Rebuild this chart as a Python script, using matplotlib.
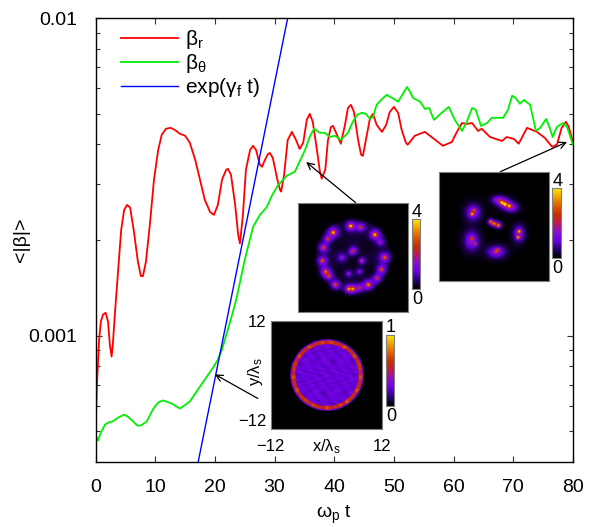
import numpy as np
import matplotlib
matplotlib.use('Agg')
import matplotlib.pyplot as plt
from matplotlib.colors import LinearSegmentedColormap

plt.rcParams['font.family'] = ['Liberation Sans', 'DejaVu Sans']
plt.rcParams['mathtext.fontset'] = 'custom'
plt.rcParams['mathtext.rm'] = 'Liberation Sans'
plt.rcParams['mathtext.it'] = 'Liberation Sans:italic'
plt.rcParams['axes.unicode_minus'] = True

W, H = 590, 527

# <|beta_r|> (values in units of 1e-3)
t_r = [0, .25, .6, .9, 1.25, 1.7, 2.1, 2.4, 2.7, 2.9, 3.3, 3.8, 4.3, 4.8, 5.3, 5.8, 6.45, 7.1, 7.6, 7.95,
       8.45, 9.1, 9.8, 10.5, 11.1, 11.8, 12.6, 13.3, 14.15, 15.0, 15.8, 16.7, 17.5, 18.3, 19.2, 19.85,
       20.5, 21.2, 21.9, 22.2, 22.7, 23.4, 23.9, 24.2, 24.7, 25.2, 25.9, 26.4, 26.9, 27.55, 27.9, 28.4,
       28.9, 29.2, 29.7, 30.4, 30.9, 31.1, 31.6, 32.2, 32.9, 33.6, 34.2, 34.8, 35.4, 35.9, 36.4, 37.1,
       37.6, 37.9, 38.5, 38.95, 39.45, 39.8, 40.3, 41.1, 41.8, 42.3, 42.8, 43.3, 44.0, 44.5, 44.8, 45.3,
       46.0, 46.5, 47.1, 48.0, 48.7, 49.3, 50.0, 50.7, 51.3, 52.0, 52.3, 53.5, 55.2, 56.5, 58.2, 59.7,
       60.55, 61.4, 62.2, 63.1, 64.1, 64.7, 66.1, 68.1, 68.9, 70.1, 70.9, 72.3, 73.95, 75.3, 76.5, 77.3,
       78.1, 78.8, 79.3, 80]
beta_r = [.499, .701, .971, 1.107, 1.164, 1.18, 1.107, .937, .859, .937, 1.208, 1.61, 2.15, 2.49, 2.58, 2.53,
          2.12, 1.71, 1.54, 1.54, 1.71, 2.23, 3.10, 3.84, 4.29, 4.48, 4.51, 4.44, 4.32, 4.26, 4.05, 3.58,
          3.10, 2.68, 2.45, 2.40, 2.58, 3.10, 3.33, 3.35, 3.21, 2.58, 2.08, 1.95, 2.40, 3.33, 3.84, 3.96,
          3.84, 3.45, 3.40, 3.58, 3.73, 3.76, 3.63, 3.14, 2.88, 2.84, 3.21, 4.13, 4.38, 4.13, 3.87, 4.05,
          4.78, 4.99, 4.71, 3.84, 3.28, 3.12, 3.33, 4.13, 4.54, 4.57, 4.35, 4.02, 4.61, 5.21, 5.33, 5.06,
          4.13, 3.71, 3.68, 4.13, 4.85, 4.99, 4.61, 4.38, 4.61, 5.06, 5.25, 5.03, 4.44, 4.05, 3.99, 4.26,
          4.38, 4.19, 3.96, 4.07, 4.38, 4.67, 4.64, 4.67, 4.41, 4.48, 4.22, 4.10, 4.22, 4.16, 4.02, 4.51,
          4.38, 4.19, 3.93, 3.99, 4.51, 4.71, 4.54, 4.05]

# <|beta_theta|>
t_th = [0, .4, .9, 1.6, 2.25, 2.9, 3.8, 4.8, 5.4, 6.3, 7.0, 7.6, 8.6, 9.6, 10.5, 11.3, 12.8, 14.15, 15.8, 17.5,
        19.7, 20.5, 21.2, 22.0, 22.9, 23.7, 25.0, 26.4, 27.55, 28.7, 29.6, 30.6, 32.1, 33.4, 34.25, 35.1, 35.8,
        36.6, 37.6, 38.4, 39.3, 40.1, 41.1, 42.3, 43.1, 43.8, 44.6, 45.3, 46.0, 46.5, 47.1, 48.0, 48.8, 49.7,
        50.7, 51.3, 52.2, 52.7, 53.2, 54.4, 55.2, 55.9, 56.7, 58.0, 59.2, 60.2, 61.4, 62.2, 63.1, 63.7, 64.6,
        65.6, 66.4, 68.3, 69.1, 69.8, 70.4, 71.1, 71.8, 72.8, 73.3, 73.8, 74.5, 75.5, 76.1, 76.6, 77.3, 78.3,
        79.0, 80]
beta_th = [.488, .467, .495, .525, .533, .537, .552, .564, .556, .537, .521, .521, .537, .585, .616, .625, .611,
           .589, .620, .691, .793, .840, .904, 1.02, 1.164, 1.33, 1.73, 2.20, 2.40, 2.54, 2.77, 2.98, 3.19, 3.28,
           3.55, 3.84, 4.19, 4.48, 4.35, 4.35, 4.22, 4.26, 4.13, 4.35, 4.71, 4.95, 5.03, 4.99, 4.81, 4.88, 5.33,
           5.56, 5.73, 5.60, 5.45, 5.69, 6.07, 5.85, 5.60, 5.45, 5.17, 5.21, 4.78, 5.03, 5.25, 4.78, 4.41, 4.71,
           5.21, 5.14, 4.57, 4.67, 4.85, 4.85, 5.14, 5.69, 5.60, 5.37, 5.52, 5.33, 4.85, 4.41, 4.51, 4.81, 4.51,
           4.22, 4.54, 4.67, 4.54, 3.99]

# exp(gamma_f t) fit
t_fit = [17.2, 32.2]
beta_fit = [.4, 10.0]

x_ticks = [0, 10, 20, 30, 40, 50, 60, 70, 80]
y_major = [0.001, 0.01]
y_major_labels = ['0.001', '0.01']
y_minor = [5e-4, 6e-4, 7e-4, 8e-4, 9e-4, 2e-3, 3e-3, 4e-3, 5e-3, 6e-3, 7e-3, 8e-3, 9e-3]

# blobs seen in the insets: x, y (fraction of the image, y down), peak, width
late_x = [.48, .57, .32, .27, .70, .75, .23, .22, .79, .76, .25, .28, .72, .34, .64, .46, .50, .56,
          .49, .40, .58, .56, .46, .51]
late_y = [.21, .22, .27, .33, .29, .36, .41, .53, .50, .61, .63, .67, .69, .75, .75, .79, .79, .78,
          .45, .50, .53, .63, .65, .43]
late_a = [3.6, 2.0, 3.2, 2.0, 3.3, 1.0, 2.2, 2.4, 2.5, 2.3, 2.4, 1.8, 1.9, 2.3, 2.8, 2.6, 2.6, 1.3,
          1.0, .9, 2.0, .9, .9, .7]
late_s = [.022, .022, .025, .02, .025, .02, .022, .022, .025, .022, .024, .02, .022, .022, .024, .02, .02, .02,
          .018, .022, .016, .015, .015, .018]

halo_x = [.54, .60, .66, .31, .47, .51, .545, .727, .295, .52]
halo_y = [.255, .29, .325, .37, .457, .475, .49, .567, .63, .735]
halo_sx = [.04, .04, .04, .045, .018, .022, .018, .035, .045, .055]
halo_sy = [.025, .03, .028, .05, .018, .02, .018, .05, .06, .038]

speck_x = [.57, .60, .64, .30, .32, .30, .33, .73, .72, .50, .47, .54, .52, .54]
speck_y = [.28, .295, .31, .385, .35, .61, .66, .545, .60, .475, .455, .49, .73, .71]
speck_a = [2.4, 3.0, 2.2, 2.6, 1.6, 1.6, 1.4, 2.8, 2.6, 1.8, 1.6, 1.6, 1.6, 1.4]

palette = ['#000000', '#2a0070', '#6a00e0', '#8a10d0', '#c01a50', '#c83000', '#e06000', '#f0a000', '#ffe800']
fire = LinearSegmentedColormap.from_list('fire', palette)


def px_axes(x0, y0, x1, y1):
    return fig.add_axes([x0 / W, 1 - y1 / H, (x1 - x0) / W, (y1 - y0) / H])


def frame(a):
    a.set_xticks([])
    a.set_yticks([])
    for s in a.spines.values():
        s.set_color('#808080')
        s.set_linewidth(0.8)


def colorbar(bar, lo, hi):
    cax = px_axes(*bar)
    cax.imshow(np.linspace(1, 0, 200)[:, None], cmap=fire, aspect='auto')
    frame(cax)
    xc = (bar[0] + bar[2]) / 2 + 1
    fig.text(xc / W, 1 - (bar[1] - 7) / H, hi, ha='center', va='center', fontsize=13)
    fig.text(xc / W, 1 - (bar[3] + 11) / H, lo, ha='center', va='center', fontsize=13)


n = 220
gx, gy = np.meshgrid(np.linspace(0, 1, n), np.linspace(0, 1, n))

# ring at the start of the instability
rr = np.hypot(gx - .5, gy - .505)
ang = np.arctan2(gy - .505, gx - .5)
ring = .25 + .035 * np.sin(38 * gx + 9 * np.sin(21 * gy)) * np.cos(33 * gy) + .02 * np.cos(61 * gx - 47 * gy)
ring = np.where(rr < .33, ring, .0)
band = (rr > .285) & (rr < .318)
ring = np.where(band, .60 + .07 * np.sin(17 * ang) + .05 * np.sin(29 * ang), ring)
ring = ring + .25 * np.exp(-((gx - .675) ** 2 + (gy - .755) ** 2) / .00012)
ring = ring + .1 * np.exp(-((gx - .51) ** 2 + (gy - .19) ** 2) / .0004)

# filaments on a ring
late = np.zeros_like(gx)
for x, y, a, s in zip(late_x, late_y, late_a, late_s):
    d2 = (gx - x) ** 2 + (gy - y) ** 2
    late += (.6 + .3 * a) * np.exp(-d2 / (2 * (1.5 * s) ** 2))
    late += .7 * a * np.exp(-d2 / (2 * (.5 * s) ** 2))
rl = np.hypot(gx - .5, gy - .49)
late += .16 * (rl < .34) * (1 + .6 * np.sin(16 * gx) * np.cos(19 * gy))

# merged filaments
final = np.zeros_like(gx)
for x, y, sx, sy in zip(halo_x, halo_y, halo_sx, halo_sy):
    final += 1.3 * np.exp(-(gx - x) ** 2 / (2 * sx ** 2) - (gy - y) ** 2 / (2 * sy ** 2))
    final += .2 * np.exp(-(gx - x) ** 2 / (2 * (1.6 * sx) ** 2) - (gy - y) ** 2 / (2 * (1.6 * sy) ** 2))
for x, y, a in zip(speck_x, speck_y, speck_a):
    final += a * np.exp(-((gx - x) ** 2 + (gy - y) ** 2) / (2 * .011 ** 2))
final = np.clip(final, 0, 4)

fig = plt.figure(figsize=(W / 100, H / 100), dpi=100)
ax = px_axes(95.5, 18, 573, 462)
ax.semilogy(t_r, np.array(beta_r) * 1e-3, color='#ff0000', lw=1.3, label='β$_{\\mathrm{r}}$')
ax.semilogy(t_th, np.array(beta_th) * 1e-3, color='#00f000', lw=1.3, label='β$_{\\mathrm{θ}}$')
ax.semilogy(t_fit, np.array(beta_fit) * 1e-3, color='#0000ff', lw=1.0, label='exp(γ$_{\\mathrm{f}}$ t)')
ax.set_xlim(0, 80)
ax.set_ylim(4e-4, 0.01)
ax.set_xticks(x_ticks)
ax.set_yticks(y_major)
ax.set_yticklabels(y_major_labels)
ax.set_yticks(y_minor, minor=True)
ax.set_yticklabels([], minor=True)
ax.tick_params(which='major', direction='in', length=4.5, width=0.8, top=True, right=True, labelsize=14,
               color='#333333')
ax.tick_params(which='minor', direction='in', length=3.0, width=0.8, top=True, right=True, color='#333333')
ax.tick_params(axis='y', which='major', pad=13)
ax.tick_params(axis='x', which='major', pad=12.5)
ax.set_xlabel('ω$_{\\mathrm{p}}$ t', fontsize=14)
ax.xaxis.set_label_coords(0.5, -0.095)
ax.set_ylabel('<|β|>', fontsize=14)
ax.yaxis.set_label_coords(-0.137, 0.5)
for s in ax.spines.values():
    s.set_linewidth(1.0)
ax.legend(loc='upper left', bbox_to_anchor=(0.041, 0.992), frameon=False, fontsize=15, handlelength=2.74,
          handletextpad=0.33, labelspacing=0.05, borderaxespad=0, borderpad=0.3)

arrow = dict(arrowstyle='->', color='black', lw=0.9, shrinkA=0, shrinkB=0, mutation_scale=12)
ax.annotate('', xy=(20.0, 7.55e-4), xytext=(27.2, 6.34e-4), arrowprops=arrow)
ax.annotate('', xy=(35.3, 3.52e-3), xytext=(43.6, 2.62e-3), arrowprops=arrow)
ax.annotate('', xy=(79.0, 4.07e-3), xytext=(67.8, 3.28e-3), arrowprops=arrow)

ia = px_axes(270.7, 320.7, 382, 429)
ia.imshow(ring, cmap=fire, vmin=0, vmax=1, extent=(-12, 12, -12, 12), interpolation='bilinear', aspect='auto')
ia.set_xticks([-12, 12])
ia.set_yticks([-12, 12])
ia.tick_params(length=0, labelsize=12)
ia.tick_params(axis='x', pad=7)
ia.tick_params(axis='y', pad=3)
ia.get_yticklabels()[0].set_va('bottom')
ia.set_xlabel('x/λ$_{\\mathrm{s}}$', fontsize=12)
ia.xaxis.set_label_coords(0.5, -0.075)
ia.set_ylabel('y/λ$_{\\mathrm{s}}$', fontsize=12)
ia.yaxis.set_label_coords(-0.055, 0.53)
for s in ia.spines.values():
    s.set_color('#808080')
    s.set_linewidth(0.8)
colorbar((386, 335, 394, 405.7), '0', '1')

a2 = px_axes(298, 203, 408, 312)
a2.imshow(late, cmap=fire, vmin=0, vmax=4, interpolation='bilinear', aspect='auto')
frame(a2)
colorbar((412, 219, 420, 289), '0', '4')

a3 = px_axes(439, 172, 549, 281)
a3.imshow(final, cmap=fire, vmin=0, vmax=4, interpolation='bilinear', aspect='auto')
frame(a3)
colorbar((552, 188, 560.5, 258), '0', '4')

plt.savefig('out.png', dpi=100)
